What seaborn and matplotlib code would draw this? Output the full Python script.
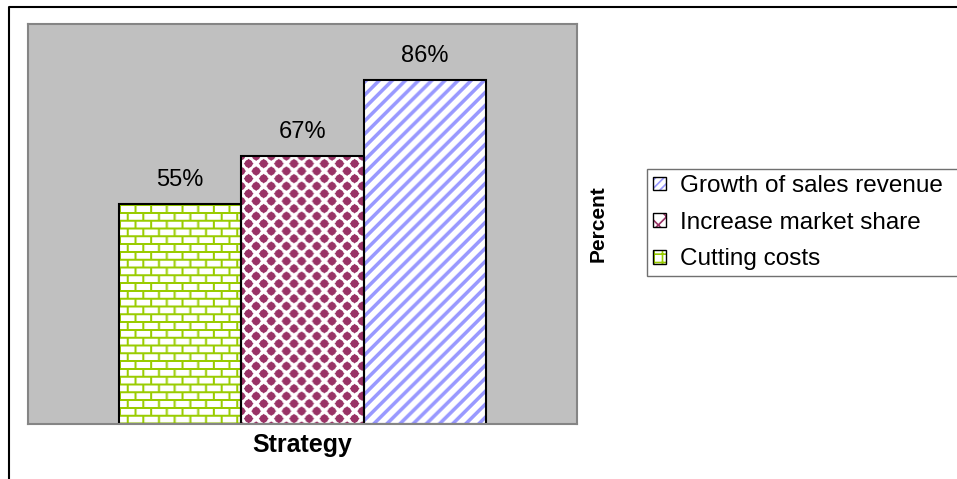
import numpy as np
import pandas as pd
import matplotlib
matplotlib.use("Agg")
import matplotlib.pyplot as plt
import seaborn as sns
from matplotlib.patches import Patch
from matplotlib.lines import Line2D
from matplotlib.legend_handler import HandlerTuple

# ---- data -------------------------------------------------------------
strategies = ["Cutting costs", "Increase market share", "Growth of sales revenue"]
percent = [55, 67, 86]
value_labels = ["55%", "67%", "86%"]
group = ["Strategy"] * 3
legend_order = ["Growth of sales revenue", "Increase market share", "Cutting costs"]

# ---- styling ----------------------------------------------------------
GREEN, MAROON, BLUE = "#99cc00", "#993366", "#9999ff"
fill_colors = {"Cutting costs": GREEN, "Increase market share": MAROON,
               "Growth of sales revenue": BLUE}
legend_hatch = {"Cutting costs": "++", "Increase market share": "xx",
                "Growth of sales revenue": "////"}

sns.set_theme(style="white")
plt.rcParams["font.family"] = ["Liberation Sans", "DejaVu Sans"]
plt.rcParams["text.color"] = "black"
plt.rcParams["axes.labelcolor"] = "black"
plt.rcParams["hatch.linewidth"] = 1.2

W, H, DPI = 957, 479, 100
fig = plt.figure(figsize=(W / DPI, H / DPI), dpi=DPI)
fig.patch.set_facecolor("white")
ax = fig.add_axes([28 / W, 1 - 424 / H, 549 / W, 400 / H])

df = pd.DataFrame({"group": group, "strategy": strategies, "percent": percent})
sns.barplot(data=df, x="group", y="percent", hue="strategy",
            hue_order=strategies, order=["Strategy"], width=0.668,
            palette=["white"] * 3, saturation=1, edgecolor="black",
            linewidth=1.5, legend=False, ax=ax)

ax.set_xlim(-0.5, 0.5)
ax.set_ylim(0, 100)
ax.set_facecolor("#c0c0c0")
for sp in ax.spines.values():
    sp.set_visible(True)
    sp.set_color("#858585")
    sp.set_linewidth(1.5)
ax.set_xticks([])
ax.set_yticks([])
ax.set_ylabel("")
ax.set_xlabel("Strategy", fontsize=18, fontweight="bold", color="black")
ax.xaxis.set_label_coords(0.5, -9 / 400)
ax.xaxis.label.set_va("top")


# ---- fill textures ----------------------------------------------------
def _grid(w, h, s):
    yy, xx = np.mgrid[0:h * s, 0:w * s].astype(float) / s
    return xx, yy


def _shade(mask, w, h, s, color):
    m = mask.astype(float).reshape(h, s, w, s).mean(axis=(1, 3))
    c = np.array(matplotlib.colors.to_rgb(color))
    return np.ones((h, w, 3)) * (1 - m[..., None]) + c * m[..., None]


def bricks(w, h, s=4):
    xx, yy = _grid(w, h, s)
    ph, pw, t = 7.8, 15.5, 2.0
    row = np.floor(yy / ph)
    horiz = (yy % ph) < t
    vert = ((xx + (row % 2) * pw / 2) % pw) < t
    return _shade(horiz | vert, w, h, s, GREEN)


def diamonds(w, h, s=4):
    xx, yy = _grid(w, h, s)
    p, r = 15.0, 5.0
    d1 = np.abs((xx % p) - p / 2) + np.abs((yy % p) - p / 2)
    d2 = np.abs(((xx + p / 2) % p) - p / 2) + np.abs(((yy + p / 2) % p) - p / 2)
    # slightly rounded diamonds
    e1 = np.hypot((xx % p) - p / 2, (yy % p) - p / 2)
    e2 = np.hypot(((xx + p / 2) % p) - p / 2, ((yy + p / 2) % p) - p / 2)
    mask = (np.minimum(d1, d2) < r) | (np.minimum(e1, e2) < r * 0.8)
    return _shade(mask, w, h, s, MAROON)


def stripes(w, h, s=4):
    xx, yy = _grid(w, h, s)
    period, band = 13.0, 5.0
    return _shade(((xx + yy) % period) < band, w, h, s, BLUE)


textures = {"Cutting costs": bricks, "Increase market share": diamonds,
            "Growth of sales revenue": stripes}

fig.canvas.draw()
bars = list(ax.patches)
for bar, name, lab, val in zip(bars, strategies, value_labels, percent):
    bb = bar.get_window_extent()
    wpx, hpx = max(int(round(bb.width)), 1), max(int(round(bb.height)), 1)
    img = textures[name](wpx, hpx)
    x0, y0 = bar.get_x(), bar.get_y()
    im = ax.imshow(img, extent=(x0, x0 + bar.get_width(), y0, y0 + bar.get_height()),
                   aspect="auto", interpolation="antialiased", zorder=1.5)
    im.set_clip_path(bar)
    bar.set_facecolor("none")
    bar.set_zorder(2)
    ax.annotate(lab, (x0 + bar.get_width() / 2, val), xytext=(0, 13),
                textcoords="offset points", ha="center", va="baseline",
                fontsize=17, color="black")

ax.set_xlim(-0.5, 0.5)
ax.set_ylim(0, 100)

# axis title sitting to the right of the plot area
ax.text((598 - 28) / 549, (424 - 224) / 400, "Percent", transform=ax.transAxes,
        rotation=90, ha="center", va="center", fontsize=15, fontweight="bold")

# ---- legend -----------------------------------------------------------
handles = []
for name in legend_order:
    handles.append((Patch(facecolor="white", edgecolor=fill_colors[name],
                          hatch=legend_hatch[name], linewidth=0),
                    Patch(facecolor="none", edgecolor="black", linewidth=1)))
leg = fig.legend(handles, legend_order,
                 handler_map={tuple: HandlerTuple(ndivide=1, pad=0)},
                 loc="upper left", mode="expand",
                 bbox_to_anchor=(647 / W, 1 - 169 / H, (975 - 647) / W, 0.0),
                 borderaxespad=0, fontsize=17.5, frameon=True, fancybox=False,
                 framealpha=1, edgecolor="#707070", handlelength=0.55,
                 handleheight=0.5, handletextpad=0.55, labelspacing=0.6,
                 borderpad=0.25)
for t in leg.get_texts():
    t.set_color("black")

# ---- outer frame ------------------------------------------------------
fig.add_artist(Line2D([9 / W, 9 / W, 1.01], [-0.01, 1 - 7 / H, 1 - 7 / H],
                      transform=fig.transFigure, color="black", linewidth=1.5))

fig.savefig("out.png", dpi=DPI)
